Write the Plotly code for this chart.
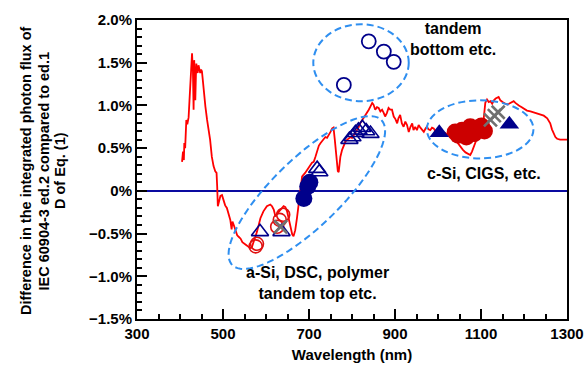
import numpy as np
import plotly.graph_objects as go

# ---- data ----
curve_wl = [404.7, 406, 407, 409, 410, 412, 414.7, 417, 420, 422, 424, 426, 428, 429, 430, 431.6, 433, 434.5,
            435.6, 437, 438, 440, 441, 443, 445, 447, 449, 451, 453, 455, 459, 463, 466.5, 470, 474, 478, 482,
            485, 486.5, 488, 491, 494, 497.7, 501, 505, 509, 513, 517, 520, 522, 525, 529, 533, 537, 541, 545,
            549, 553, 558, 563, 567, 571, 575, 579, 583, 587, 594, 602, 610, 614, 618, 622, 627, 633, 641, 645,
            649, 653, 657, 661, 664, 668, 672, 676, 680, 684, 691, 699, 703, 707, 711, 715, 719, 723, 727, 730,
            734, 738, 742, 746, 750, 754, 757, 760, 762, 765, 767, 769, 771, 773, 777, 781, 785, 789, 793, 797,
            800, 805, 810, 815, 819, 823, 827, 831, 835, 839, 843, 847, 850, 854, 858, 862, 866, 870, 874, 877,
            881, 885, 889, 893, 897, 901, 905, 908, 912, 916, 920, 924, 928, 932, 936, 940, 943, 947, 951, 955,
            959, 963, 967, 971, 974, 978, 982, 986, 990, 994, 998, 1004, 1010, 1016, 1022, 1028, 1034, 1040,
            1046, 1052, 1058, 1064, 1070, 1075, 1079, 1083, 1087, 1091, 1095, 1098, 1102, 1106, 1110, 1114,
            1118, 1122, 1126, 1130, 1134, 1137, 1141, 1145, 1149, 1153, 1157, 1161, 1165, 1168, 1172, 1176,
            1180, 1184, 1188, 1191, 1199, 1207, 1215, 1222, 1230, 1238, 1246, 1254, 1261, 1265, 1269, 1273,
            1277, 1284, 1292, 1300]
curve_d = [0.34, 0.40, 0.46, 0.36, 0.56, 0.50, 0.83, 0.78, 0.86, 1.05, 1.30, 1.45, 1.61, 1.50, 1.42, 0.95, 1.53, 1.30,
           1.06, 1.35, 1.49, 1.40, 1.38, 1.47, 1.42, 1.38, 1.42, 1.40, 1.30, 1.18, 0.99, 0.83, 0.71, 0.60, 0.40, 0.29, 0.23,
           0.21, 0.05, -0.18, -0.12, -0.06, -0.05, -0.11, -0.17, -0.20, -0.28, -0.34, -0.45, -0.36, -0.40, -0.46, -0.52, -0.54, -0.56, -0.60,
           -0.62, -0.63, -0.65, -0.67, -0.66, -0.61, -0.54, -0.48, -0.40, -0.32, -0.24, -0.18, -0.16, -0.18, -0.22, -0.30, -0.26, -0.22, -0.18, -0.19,
           -0.24, -0.33, -0.44, -0.51, -0.53, -0.46, -0.32, -0.16, 0.01, 0.17, 0.21, 0.28, 0.30, 0.33, 0.34, 0.40, 0.47, 0.53, 0.56, 0.58,
           0.60, 0.63, 0.62, 0.65, 0.69, 0.73, 0.74, 0.60, 0.50, 0.38, 0.23, 0.22, 0.30, 0.40, 0.48, 0.54, 0.58, 0.60, 0.62, 0.63,
           0.62, 0.66, 0.70, 0.74, 0.79, 0.82, 0.86, 0.88, 0.91, 0.95, 0.99, 1.03, 1.01, 0.95, 0.98, 0.97, 0.93, 0.95, 0.91, 0.87,
           0.91, 0.97, 0.95, 0.95, 0.87, 0.84, 0.79, 0.85, 0.89, 0.79, 0.75, 0.81, 0.77, 0.69, 0.75, 0.79, 0.71, 0.75, 0.71, 0.77,
           0.74, 0.71, 0.69, 0.73, 0.75, 0.72, 0.71, 0.74, 0.73, 0.70, 0.68, 0.66, 0.67, 0.68, 0.66, 0.67, 0.64, 0.60,
           0.55, 0.52, 0.48, 0.45, 0.43, 0.42, 0.46, 0.52, 0.58, 0.62, 0.64, 0.65, 0.72, 0.83, 1.03, 1.07,
           1.04, 1.05, 1.02, 1.06, 1.08, 1.09, 1.10, 1.06, 1.04, 1.03, 1.02, 1.01, 1.02, 1.03, 1.04, 1.05,
           1.03, 1.01, 1.00, 0.99, 0.96, 0.94, 0.93, 0.92, 0.91, 0.90, 0.88, 0.85, 0.79, 0.72, 0.67, 0.63,
           0.61, 0.60, 0.60, 0.60]

open_circ_blue_x = [781, 839, 874, 897]
open_circ_blue_y = [1.24, 1.75, 1.63, 1.51]

open_circ_red_x = [576, 579, 626, 632, 640]
open_circ_red_y = [-0.65, -0.62, -0.42, -0.34, -0.28]

open_tri_x = [586, 636, 719, 724, 794, 801, 808, 815, 824, 833, 843]
open_tri_y = [-0.48, -0.48, 0.26, 0.22, 0.60, 0.63, 0.68, 0.71, 0.74, 0.70, 0.67]

gray_x_x = [634, 1122, 1131, 1140]
gray_x_y = [-0.42, 0.83, 0.88, 0.92]

fill_circ_blue_x = [688, 697, 702]
fill_circ_blue_y = [-0.09, 0.05, 0.10]

fill_circ_red_x = [1040, 1047, 1056, 1066, 1075, 1084, 1094, 1101, 1108]
fill_circ_red_y = [0.69, 0.65, 0.71, 0.63, 0.75, 0.67, 0.74, 0.76, 0.70]

fill_tri_x = [1003, 1166]
fill_tri_y = [0.68, 0.78]

y_tickvals = [-1.5, -1.0, -0.5, 0.0, 0.5, 1.0, 1.5, 2.0]
y_ticktext = ["−1.5%", "−1.0%", "−0.5%", "0%", "0.5%", "1.0%", "1.5%", "2.0%"]
x_tickvals = [300, 500, 700, 900, 1100, 1300]

y_title_lines = ["Difference in the integrated photon flux of",
                 "IEC 60904-3 ed.2 compared to ed.1",
                 "D of Eq. (1)"]

NAVY = "#00008b"
FAM = "Liberation Sans, Arial, sans-serif"
TICKFONT = dict(family=FAM, size=15, color="black", weight="bold")
TXTFONT = dict(family=FAM, size=16, color="black", weight="bold")

W, H = 584, 368
ML, MR, MT, MB = 137, 17, 20, 49


def paper_x(px):
    return (px - ML) / (W - ML - MR)


def paper_y(py):
    return (H - MB - py) / (H - MT - MB)


fig = go.Figure()
fig.add_trace(go.Scatter(x=curve_wl, y=curve_d, mode="lines",
                         line=dict(color="#ff0000", width=1.8), showlegend=False))

def mk(x, y, symbol, size, color, lw=1.6, lcolor=None):
    fig.add_trace(go.Scatter(x=x, y=y, mode="markers", showlegend=False,
                             marker=dict(symbol=symbol, size=size, color=color,
                                         line=dict(width=lw, color=lcolor or color))))

mk(open_circ_blue_x, open_circ_blue_y, "circle-open", 14, NAVY, 1.8)
mk(open_circ_red_x, open_circ_red_y, "circle-open", 13, "#e01010", 1.6)
mk(open_tri_x, open_tri_y, "triangle-up-open", 15, NAVY, 1.6)
mk(fill_circ_blue_x, fill_circ_blue_y, "circle", 17, NAVY, 0)
mk(fill_circ_red_x, fill_circ_red_y, "circle", 17, "#cc0000", 0)
mk(fill_tri_x, fill_tri_y, "triangle-up", 17, NAVY, 0)
mk(gray_x_x, gray_x_y, "x-thin-open", 13, "#707070", 2.6)

DASHBLUE = "#2f8ff0"
DASH = "7px,4px"
fig.add_shape(type="circle", xref="x", yref="y", x0=710, x1=932, y0=1.05, y1=1.95,
              line=dict(color=DASHBLUE, width=2, dash=DASH))
fig.add_shape(type="circle", xref="x", yref="y", x0=974, x1=1222, y0=0.38, y1=1.06,
              line=dict(color=DASHBLUE, width=2, dash=DASH))
# rotated ellipse (a-Si group) in data units
t = np.linspace(0, 2 * np.pi, 90)
cx, cy = 695.0, -0.02
ax_vec = (173.5, 0.848)
mi_vec = (55.1, -0.285)
ex = cx + ax_vec[0] * np.cos(t) + mi_vec[0] * np.sin(t)
ey = cy + ax_vec[1] * np.cos(t) + mi_vec[1] * np.sin(t)
path = "M " + " L ".join(f"{a:.2f},{b:.4f}" for a, b in zip(ex, ey)) + " Z"
fig.add_shape(type="path", xref="x", yref="y", path=path,
              line=dict(color=DASHBLUE, width=2, dash=DASH))

ann = [("tandem<br>bottom etc.", 453, 39), ("c-Si, CIGS, etc.", 484, 173),
       ("a-Si, DSC, polymer<br>tandem top etc.", 317, 283)]
for txt, px, py in ann:
    fig.add_annotation(text=txt, x=paper_x(px), y=paper_y(py), xref="paper", yref="paper",
                       showarrow=False, font=TXTFONT, xanchor="center", yanchor="middle",
                       align="center", borderpad=0)

# y-axis title, three rotated lines
for txt, px in zip(y_title_lines, [26, 43.5, 60]):
    fig.add_annotation(text=txt, x=paper_x(px), y=paper_y(171), xref="paper", yref="paper",
                       showarrow=False, textangle=-90, xanchor="center", yanchor="middle",
                       borderpad=0, font=dict(family=FAM, size=14.5, color="black", weight="bold"))

fig.update_xaxes(range=[300, 1300], tickvals=x_tickvals, ticks="inside", ticklen=10, tickwidth=2,
                 tickcolor="black", showline=True, linewidth=2, linecolor="black", mirror=True,
                 showgrid=False, zeroline=False, tickfont=TICKFONT, automargin=False,
                 ticklabeloverflow="allow",
                 minor=dict(dtick=50, ticks="inside", ticklen=5, tickwidth=1.5, tickcolor="black"),
                 title=dict(text="Wavelength (nm)", font=dict(family=FAM, size=15, color="black", weight="bold"),
                            standoff=8))
fig.update_yaxes(range=[-1.5, 2.0], tickvals=y_tickvals, ticktext=y_ticktext, ticks="inside",
                 ticklen=10, tickwidth=2, tickcolor="black", showline=True, linewidth=2,
                 linecolor="black", mirror=True, showgrid=False, zeroline=True, automargin=False,
                 zerolinecolor="#0a0aa0", zerolinewidth=2, tickfont=TICKFONT,
                 minor=dict(dtick=0.1, ticks="inside", ticklen=5, tickwidth=1.5, tickcolor="black"))

fig.update_layout(width=W, height=H, margin=dict(l=ML, r=MR, t=MT, b=MB),
                  paper_bgcolor="white", plot_bgcolor="white")
fig.write_html("out.html", config={"displayModeBar": False},
               post_script="document.body.style.margin='0';")
